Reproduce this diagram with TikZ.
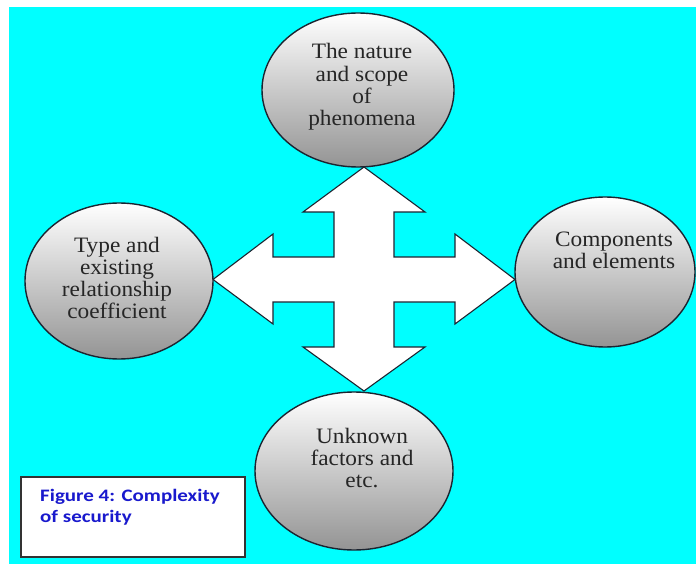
\documentclass[tikz,border=0pt]{standalone}
\usepackage{fontspec}
\setmainfont{Liberation Serif}
\newfontfamily\bubblefont[FakeStretch=1.06]{Liberation Serif}
\newfontfamily\labelfont[FakeStretch=1.2]{Carlito}
\usetikzlibrary{shapes.geometric}
\definecolor{bgcyan}{RGB}{0,255,255}
\definecolor{edgedark}{RGB}{28,36,48}
\definecolor{captionblue}{RGB}{25,25,205}
\tikzset{
  bubble/.style={ellipse, draw=edgedark, line width=1.4pt, top color=white, bottom color=black!42, inner sep=0pt},
  bubbletext/.style={align=center, inner sep=0pt, font=\bubblefont\fontsize{22}{22.3}\selectfont, text=black!85},
  crossarrow/.style={draw=edgedark, line width=1.1pt, fill=white, line join=miter},
  captionbox/.style={draw=black!80, line width=1.3pt, fill=white},
  captiontext/.style={align=left, inner sep=0pt, anchor=north west, font=\labelfont\bfseries\fontsize{17.5}{21}\selectfont, text=captionblue}
}
\begin{document}
\begin{tikzpicture}[x=1pt,y=-1pt]
\useasboundingbox (0,0) rectangle (696,564);
\fill[white] (0,0) rectangle (696,564);
\fill[bgcyan] (9,7) rectangle (696,564);
% four-way arrow
\draw[crossarrow] (364,167) -- (425,212) -- (394,212) -- (394,257) -- (455,257) -- (455,234) -- (515,279.5)
  -- (455,324) -- (455,302) -- (394,302) -- (394,347) -- (425,347) -- (364,391) -- (303,347) -- (334,347)
  -- (334,302) -- (273,302) -- (273,324) -- (213,279.5) -- (273,234) -- (273,257) -- (334,257) -- (334,212)
  -- (303,212) -- cycle;
% ellipses
\node[bubble, minimum width=192pt, minimum height=154pt] (top) at (358,90) {};
\node[bubble, minimum width=188pt, minimum height=156pt] (left) at (119,281) {};
\node[bubble, minimum width=180pt, minimum height=150pt] (right) at (605,272) {};
\node[bubble, minimum width=198pt, minimum height=158pt] (bottom) at (354,471) {};
% texts
\node[bubbletext] (toptext) at (362,87) {The nature\\and scope\\of\\phenomena};
\node[bubbletext] (lefttext) at (117,278) {Type and\\existing\\relationship\\coefficient};
\begin{scope}
\clip (500,190) rectangle (677,300);
\node[bubbletext] (righttext) at (614,250) {Components\\and elements};
\end{scope}
\node[bubbletext] (bottomtext) at (362,458) {Unknown\\factors and\\etc.};
% caption
\node[captionbox, minimum width=224pt, minimum height=80pt, inner sep=0pt] (capbox) at (133,517) {};
\node[captiontext] (captext) at (40,489) {Figure 4: Complexity\\of security};
\end{tikzpicture}
\end{document}
